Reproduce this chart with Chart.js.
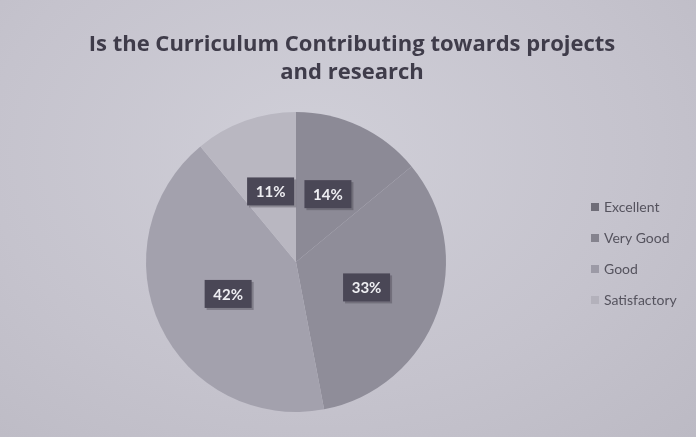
<!DOCTYPE html>
<html>
<head>
<meta charset="utf-8">
<script src="https://cdn.jsdelivr.net/npm/chart.js@4"></script>
<style>
  html, body { margin: 0; padding: 0; background: #c5c3cd; }
  #wrap { width: 696px; height: 437px; position: relative;
          background: radial-gradient(ellipse at 45% 35%, #d0cfd8 0%, #c5c3cd 60%, #bcbac4 100%); }
</style>
</head>
<body>
<div id="wrap"><canvas id="pieChart" width="696" height="437"></canvas></div>
<script>
const categories = ['Excellent', 'Very Good', 'Good', 'Satisfactory'];
const percentages = [14, 33, 42, 11];
const sliceColours = ['#8c8a96', '#8f8d99', '#a3a1ad', '#b9b7c1'];
const legendColours = ['#6f6d78', '#85838e', '#9c9aa6', '#b3b1bb'];
const titleLines = ['Is the Curriculum Contributing towards projects', 'and research'];

// dark boxes with the percentage, halfway out on each slice
const percentLabels = {
    id: 'percentLabels',
    afterDatasetsDraw(chart){
        const c = chart.ctx;
        const meta = chart.getDatasetMeta(0);
        c.save();
        c.font = 'bold 15px Lato';
        c.textAlign = 'center';
        c.textBaseline = 'middle';
        meta.data.forEach((arc, i) => {
            const mid = (arc.startAngle + arc.endAngle) / 2;
            const r = arc.outerRadius * 0.5;
            const x = arc.x + Math.cos(mid) * r;
            const y = arc.y + Math.sin(mid) * r;
            const w = 47, h = 28;
            c.fillStyle = 'rgba(60,58,70,0.35)';
            c.fillRect(x - w / 2 + 2, y - h / 2 + 2, w, h);
            c.fillStyle = '#4a4756';
            c.fillRect(x - w / 2, y - h / 2, w, h);
            c.fillStyle = '#eeeef2';
            c.fillText(percentages[i] + '%', x, y + 1);
        });
        c.restore();
    }
};

// title centred on the whole canvas, legend in the space kept free on the right
const titleAndLegend = {
    id: 'titleAndLegend',
    afterDraw(chart){
        const c = chart.ctx;
        c.save();
        c.font = 'bold 22px "Open Sans"';
        c.textAlign = 'center';
        c.textBaseline = 'middle';
        c.fillStyle = '#3f3c4a';
        titleLines.forEach((line, i) => c.fillText(line, 352, 45 + i * 28));

        c.font = '14px Lato';
        c.textAlign = 'left';
        categories.forEach((name, i) => {
            const y = 207 + i * 31;
            c.fillStyle = legendColours[i];
            c.fillRect(591, y - 4, 8, 8);
            c.fillStyle = '#55535e';
            c.fillText(name, 604, y);
        });
        c.restore();
    }
};

document.addEventListener('DOMContentLoaded', function(){
    const ctx = document.getElementById('pieChart').getContext('2d');
    new Chart(ctx, {
        type: 'pie',
        data: {
            labels: categories,
            datasets: [{
                data: percentages,
                backgroundColor: sliceColours,
                borderWidth: 0
            }]
        },
        options: {
            responsive: false,
            animation: false,
            events: [],
            layout: { padding: { left: 12, right: 116, top: 112, bottom: 25 } },
            plugins: {
                title: { display: false },
                legend: { display: false },
                tooltip: { enabled: false }
            }
        },
        plugins: [percentLabels, titleAndLegend]
    });
});
</script>
</body>
</html>
